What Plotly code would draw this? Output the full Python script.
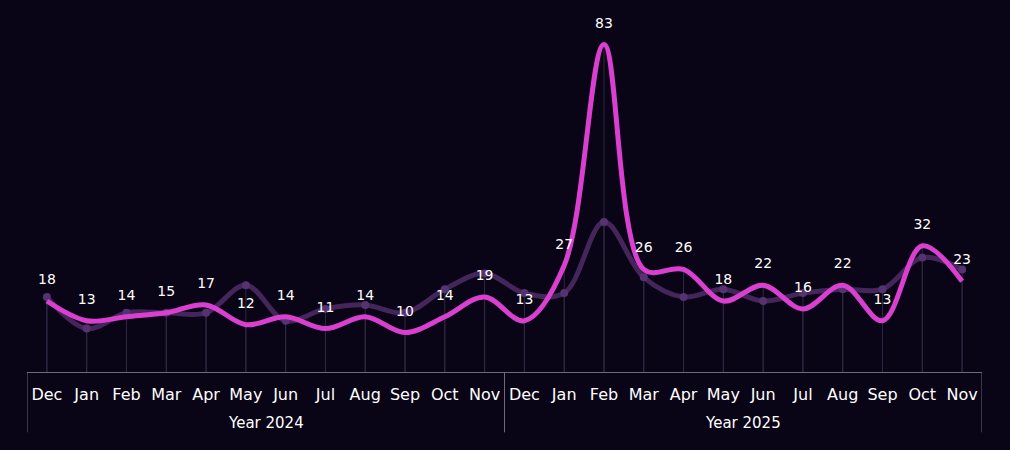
import plotly.graph_objects as go

months = ["Dec", "Jan", "Feb", "Mar", "Apr", "May", "Jun", "Jul", "Aug", "Sep", "Oct", "Nov"]
years = ["Year 2024", "Year 2025"]

# main series (labelled) and the faded comparison series
current = [18, 13, 14, 15, 17, 12, 14, 11, 14, 10, 14, 19,
           13, 27, 83, 26, 26, 18, 22, 16, 22, 13, 32, 23]
previous = [19, 11, 15, 15, 15, 22, 13, 16, 17, 15, 21, 25,
            20, 20, 38, 24, 19, 21, 18, 20, 21, 21, 29, 26]

labels = months * len(years)
x = list(range(len(labels)))

bg = "#0a0417"
font_family = "DejaVu Sans"
frame = "#6e6a7a"

fig = go.Figure()

# thin drop lines from the axis up to each point
for vals in (previous, current):
    fig.add_trace(go.Scatter(
        x=x, y=vals, mode="markers",
        marker=dict(size=1, opacity=0),
        error_y=dict(type="data", symmetric=False,
                     array=[0] * len(vals), arrayminus=vals,
                     width=0, thickness=1, color="#2e2942"),
        hoverinfo="skip", showlegend=False,
    ))

fig.add_trace(go.Scatter(
    x=x, y=previous, mode="lines+markers",
    line=dict(shape="spline", smoothing=1, color="#44265a", width=5),
    marker=dict(size=8, color="#553370"),
    showlegend=False, hoverinfo="skip",
))

# invisible markers keep the value labels clear of the line
fig.add_trace(go.Scatter(
    x=x, y=current, mode="lines+markers+text",
    line=dict(shape="spline", smoothing=1, color="#d940cf", width=5),
    marker=dict(size=20, color="rgba(0,0,0,0)"),
    text=[str(v) for v in current], textposition="top center",
    textfont=dict(family=font_family, size=14, color="#ffffff"),
    cliponaxis=False, showlegend=False,
))

# year groups: dividers at the edges and a label under each group
n = len(months)
for i, yr in enumerate(years):
    fig.add_annotation(x=i * n + (n - 1) / 2, y=-0.145, xref="x", yref="paper",
                       text=yr, showarrow=False, yanchor="middle",
                       font=dict(family=font_family, size=15, color="#ffffff"))
for i in range(len(years) + 1):
    fig.add_shape(type="line", xref="x", yref="paper",
                  x0=i * n - 0.5, x1=i * n - 0.5, y0=0, y1=-0.17,
                  line=dict(color=frame, width=1))

fig.update_layout(
    width=1010, height=450,
    paper_bgcolor=bg, plot_bgcolor=bg,
    margin=dict(l=27, r=28, t=17, b=78),
    font=dict(family=font_family, color="#ffffff"),
)
fig.update_xaxes(
    range=[-0.5, len(labels) - 0.5],
    tickvals=x, ticktext=labels,
    showgrid=False, zeroline=False,
    showline=True, linecolor=frame, linewidth=1,
    tickangle=0, ticklabelstandoff=8,
    tickfont=dict(family=font_family, size=16, color="#ffffff"),
    ticks="",
)
fig.update_yaxes(visible=False, range=[0, 90])

fig.write_html("out.html",
               config={"displayModeBar": False},
               post_script="document.body.style.margin='0';"
                           "document.body.style.background='#0a0417';")
